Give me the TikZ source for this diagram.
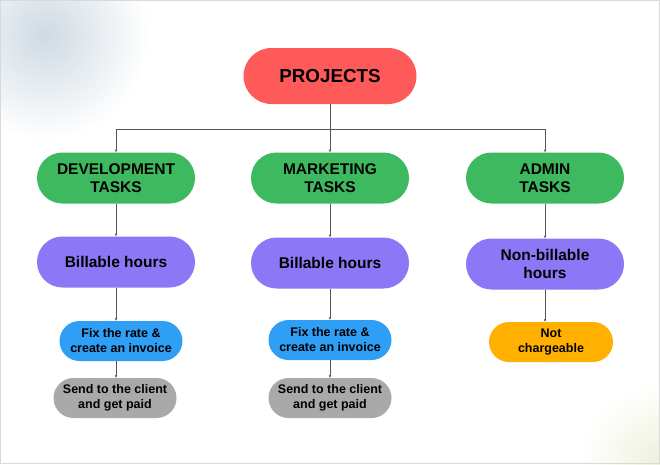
\documentclass[tikz,border=0pt]{standalone}
\usepackage{fontspec}
\setmainfont{Liberation Sans}
\usetikzlibrary{arrows.meta}
\definecolor{cred}{HTML}{FF5A5A}
\definecolor{cgreen}{HTML}{3DB95F}
\definecolor{cpurple}{HTML}{8C78F7}
\definecolor{cblue}{HTML}{2E9FF5}
\definecolor{cgray}{HTML}{A9A9A9}
\definecolor{corange}{HTML}{FFB000}
\definecolor{cline}{HTML}{555555}
\definecolor{cblob}{HTML}{CFDAE3}
\definecolor{cblobg}{HTML}{EEF1DA}
\tikzset{
  pill/.style={rectangle, align=center, inner sep=0pt, font=\bfseries},
  bigpill/.style={pill, minimum width=158pt, minimum height=51pt, rounded corners=25.5pt, font=\fontsize{15.5}{18}\selectfont\bfseries},
  smallpill/.style={pill, minimum width=123pt, minimum height=40pt, rounded corners=20pt, font=\fontsize{12.5}{15}\selectfont\bfseries},
  conn/.style={draw=cline, line width=0.6pt, -{Stealth[length=3pt,width=2.5pt]}},
  plain/.style={draw=cline, line width=0.6pt}
}
\begin{document}
\begin{tikzpicture}[x=1pt,y=-1pt]
\useasboundingbox (0,0) rectangle (660,464);
\begin{scope}
\clip (0,0) rectangle (660,464);
\fill[white] (0,0) rectangle (660,464);
\shade[inner color=cblob, outer color=white] (45,35) circle (105pt);
\shade[inner color=cblobg, outer color=white] (660,464) circle (80pt);
\end{scope}
\draw[draw=black!15, line width=1pt] (0.5,0.5) rectangle (659.5,463.5);

\node[pill, fill=cred, minimum width=173pt, minimum height=56pt, rounded corners=28pt, font=\fontsize{18.8}{20}\selectfont\bfseries] (proj) at (330,76) {PROJECTS};

\node[bigpill, fill=cgreen] (dev) at (116,178) {DEVELOPMENT\\TASKS};
\node[bigpill, fill=cgreen] (mkt) at (330,178) {MARKETING\\TASKS};
\node[bigpill, fill=cgreen] (adm) at (545,178) {ADMIN\\TASKS};

\node[bigpill, fill=cpurple] (devb) at (116,262) {Billable hours};
\node[bigpill, fill=cpurple] (mktb) at (330,263) {Billable hours};
\node[bigpill, fill=cpurple] (admb) at (545,264) {Non-billable\\hours};

\node[smallpill, fill=cblue] (devf) at (121,341) {Fix the rate \&\\create an invoice};
\node[smallpill, fill=cgray] (devs) at (115,398) {Send to the client\\and get paid};
\node[smallpill, fill=cblue] (mktf) at (330,340) {Fix the rate \&\\create an invoice};
\node[smallpill, fill=cgray] (mkts) at (330,398) {Send to the client\\and get paid};
\node[smallpill, fill=corange, minimum width=124pt] (admn) at (551,342) {Not\\chargeable};

\coordinate (j) at (330,129);
\coordinate (jl) at (116,129);
\coordinate (jr) at (545,129);
\draw[plain] (proj.south) -- (j);
\draw[plain] (jl) -- (jr);
\draw[conn] (j) -- (mkt.north);
\draw[conn] (jl) -- (dev.north);
\draw[conn] (jr) -- (adm.north);

\draw[conn] (dev.south) -- (devb.north);
\draw[conn] (mkt.south) -- (mktb.north);
\draw[conn] (adm.south) -- (admb.north);

\draw[conn] (devb.south) -- (devb.south |- devf.north);
\draw[conn] (mktb.south) -- (mktf.north);
\draw[conn] (admb.south) -- (admb.south |- admn.north);

\draw[conn] (devb.south |- devf.south) -- (devb.south |- devs.north);
\draw[conn] (mktf.south) -- (mkts.north);
\end{tikzpicture}
\end{document}
